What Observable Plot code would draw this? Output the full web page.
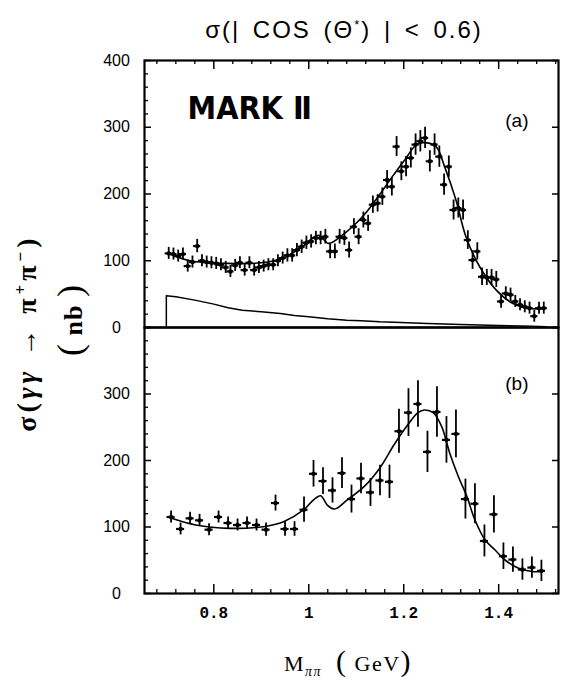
<!DOCTYPE html>
<html><head><meta charset="utf-8">
<script src="https://cdn.jsdelivr.net/npm/d3@7"></script>
<script src="https://cdn.jsdelivr.net/npm/@observablehq/plot@0.6"></script>
<style>
body{margin:0;background:#fff;}
#wrap{position:relative;width:565px;height:684px;overflow:hidden;font-family:"Liberation Sans",Arial,sans-serif;color:#000;}
.abs{position:absolute;white-space:nowrap;}
svg{overflow:visible;}
</style></head><body><div id="wrap"></div>
<script>
// ---------- panel (a): 0.01 GeV bins ----------
const massA = [0.705,0.715,0.725,0.735,0.745,0.755,0.765,0.775,0.785,0.795,
  0.805,0.815,0.825,0.835,0.845,0.855,0.865,0.875,0.885,0.895,
  0.905,0.915,0.925,0.935,0.945,0.955,0.965,0.975,0.985,0.995,
  1.005,1.015,1.025,1.035,1.045,1.055,1.065,1.075,1.085,1.095,
  1.105,1.115,1.125,1.135,1.145,1.155,1.165,1.175,1.185,1.195,
  1.205,1.215,1.225,1.235,1.245,1.255,1.265,1.275,1.285,1.295,
  1.305,1.315,1.325,1.335,1.345,1.355,1.365,1.375,1.385,1.395,
  1.405,1.415,1.425,1.435,1.445,1.455,1.465,1.475,1.485,1.495];
const xsecA = [111,110,107,110,92,98,122,100,98,97,
  96,94,90,84,93,97,86,97,86,90,
  92,94,94,100,104,108,108,116,121,127,
  129,134,134,136,114,114,136,134,116,151,
  136,161,156,184,186,196,221,211,271,234,
  241,254,274,279,284,249,274,256,214,241,
  176,179,176,131,101,114,76,75,75,72,
  39,51,49,39,34,31,29,17,29,29];
const errA = [9,9,9,9,9,9,10,9,9,9,
  9,9,9,9,9,9,9,9,9,9,
  9,9,9,9,9,10,10,10,10,10,
  10,10,10,11,11,11,11,11,12,12,
  12,12,12,13,13,13,14,14,15,14,
  15,15,16,16,16,16,16,16,16,16,
  15,15,15,14,14,13,13,12,12,12,
  10,10,10,9,9,9,9,9,9,9];
const fitAx = [0.705,0.75,0.83,0.90,0.943,0.986,1.02,1.042,1.07,1.113,1.141,1.176,1.204,1.225,1.24,1.268,1.286,1.31,1.331,1.36,1.395,1.43,1.466,1.494];
const fitAy = [111,100,96,97,103,121,138,126,138,166,191,226,253,273,277,271,241,191,136,91,56,36,28.5,28];
const bgX = [0.70,0.70,0.72,0.76,0.80,0.83,0.86,0.90,0.94,0.97,1.00,1.04,1.08,1.11,1.15,1.18,1.25,1.32,1.40,1.47,1.50,1.50];
const bgY = [0,47.5,46,41,35,29.5,26,23.5,21,18,16,13,11,10,8.5,8,6,4.5,3,2,1,0];

// ---------- panel (b): 0.02 GeV bins ----------
const massB = [0.71,0.73,0.75,0.77,0.79,0.81,0.83,0.85,0.87,0.89,
  0.91,0.93,0.95,0.97,0.99,1.01,1.03,1.05,1.07,1.09,
  1.11,1.13,1.15,1.17,1.19,1.21,1.23,1.25,1.27,1.29,
  1.31,1.33,1.35,1.37,1.39,1.41,1.43,1.45,1.47,1.49];
const xsecB = [115,97,113,110,96,115,106,103,106,103,
  96,136,97,97,126,180,169,155,181,142,
  173,152,170,168,244,272,285,213,273,231,
  240,142,135,79,119,56,51,36,39,34];
const errB = [9,9,9,9,9,9,9,9,9,9,
  10,12,11,11,19,20,20,19,23,21,
  23,21,23,25,33,36,35,31,38,35,
  36,30,30,24,28,20,19,16,16,16];
const fitBx = [0.711,0.762,0.833,0.904,0.947,0.989,1.010,1.025,1.039,1.054,1.081,1.117,1.149,1.180,1.209,1.230,1.244,1.262,1.280,1.297,1.315,1.333,1.350,1.372,1.393,1.414,1.442,1.471,1.489];
const fitBy = [113,103,98,100.5,108,125.6,140.7,147,133,127,140.7,161,188,224,254,272,276,272,251,211,176,146,110.5,80,65,50,38,33,33];

// ---------- ticks & labels ----------
const yTickLabelsA = [0,100,200,300,400];
const yTickLabelsB = [0,100,200,300];
const yMajor = [0,100,200,300,400];
const yMinor = [20,40,60,80,120,140,160,180,220,240,260,280,320,340,360,380];
const xMajor = [0.8,1,1.2,1.4];
const xMinor = [0.68,0.72,0.76,0.84,0.88,0.92,0.96,1.04,1.08,1.12,1.16,1.24,1.28,1.32,1.36,1.44,1.48,1.52];
const xTickLabels = [0.8,1,1.2,1.4];
const panelLabels = ["(a)","(b)"];

const W = 565, ML = 144, MR = 7, FW = W - ML - MR;
const xDomain = [0.654, 1.526], yDomain = [0, 400];

function panel({mass, xsec, err, half, fitX, fitY, label, labelDy, yLabels, mt, mb, ph, top, bottom, extra}) {
  const pts = mass.map((m, i) => ({m, s: xsec[i], e: err[i]}));
  const fit = fitX.map((x, i) => ({x, y: fitY[i]}));
  const marks = [
    Plot.frame({stroke: "#000", strokeWidth: 2.2}),
    Plot.axisY(yLabels, {tickSize: 0, tickPadding: 28, textAnchor: "middle", fontSize: 16, label: null}),
    Plot.tickY(yMinor, {y: d => d, insetRight: FW - 4, strokeWidth: 1.3}),
    Plot.tickY(yMajor, {y: d => d, insetRight: FW - 7, strokeWidth: 1.5}),
    Plot.tickY(yMajor, {y: d => d, insetLeft: FW - 6, strokeWidth: 1.5}),
    ...extra,
    Plot.line(fit, {x: "x", y: "y", curve: "catmull-rom", strokeWidth: 1.6, stroke: "#000"}),
    Plot.ruleX(pts, {x: "m", y1: d => d.s - d.e, y2: d => d.s + d.e, strokeWidth: 1.8, stroke: "#000"}),
    Plot.ruleY(pts, {y: "s", x1: d => d.m - half, x2: d => d.m + half, strokeWidth: 2.2, stroke: "#000"}),
    Plot.dot(pts, {x: "m", y: "s", r: 2.2, fill: "#000", stroke: null}),
    Plot.text([label], {frameAnchor: "top-right", dx: -30, dy: labelDy, textAnchor: "end", lineAnchor: "middle", fontSize: 19})
  ];
  if (top) {
    marks.push(Plot.tickX(xMinor, {x: d => d, insetBottom: ph - 4, strokeWidth: 1.3}));
    marks.push(Plot.tickX(xMajor, {x: d => d, insetBottom: ph - 9, strokeWidth: 1.5}));
  }
  if (bottom) {
    marks.push(Plot.tickX(xMinor, {x: d => d, insetTop: ph - 4, strokeWidth: 1.3}));
    marks.push(Plot.tickX(xMajor, {x: d => d, insetTop: ph - 9, strokeWidth: 1.5}));
    marks.push(Plot.axisX(xTickLabels, {tickSize: 0, tickPadding: 13, tickFormat: d => String(d), fontSize: 16, fontWeight: "bold", fontFamily: "Liberation Mono", label: null}));
  }
  return Plot.plot({
    width: W, height: mt + ph + mb,
    marginLeft: ML, marginRight: MR, marginTop: mt, marginBottom: mb,
    x: bottom ? {domain: xDomain} : {domain: xDomain, axis: null},
    y: {domain: yDomain},
    style: {fontFamily: "Liberation Sans, Arial, sans-serif", fontSize: "16px", color: "#000", background: "transparent", overflow: "visible"},
    marks
  });
}

const wrap = document.getElementById("wrap");

const bg = bgX.map((x, i) => ({x, y: bgY[i]}));
const pa = panel({mass: massA, xsec: xsecA, err: errA, half: 0.0075, fitX: fitAx, fitY: fitAy,
  label: panelLabels[0], labelDy: 60, yLabels: yTickLabelsA, mt: 20, mb: 3, ph: 267, top: true, bottom: false,
  extra: [Plot.line(bg, {x: "x", y: "y", strokeWidth: 1.5, stroke: "#000"}),
          Plot.text(["MARK Ⅱ"], {frameAnchor: "top-left", dx: 43, dy: 48, textAnchor: "start", lineAnchor: "middle",
            fontSize: 32, fontWeight: 900, fontFamily: "DejaVu Sans Condensed, DejaVu Sans", letterSpacing: -1})]});
pa.style.position = "absolute"; pa.style.left = "0px"; pa.style.top = "40px";
wrap.appendChild(pa);

const pb = panel({mass: massB, xsec: xsecB, err: errB, half: 0.0085, fitX: fitBx, fitY: fitBy,
  label: panelLabels[1], labelDy: 56, yLabels: yTickLabelsB, mt: 10, mb: 91, ph: 266, top: false, bottom: true, extra: []});
pb.style.position = "absolute"; pb.style.left = "0px"; pb.style.top = "317px";
wrap.appendChild(pb);

function addDiv(html, css) {
  const d = document.createElement("div");
  d.className = "abs"; d.innerHTML = html; d.style.cssText += css;
  wrap.appendChild(d);
}
addDiv("σ(| COS (Θ<sup style='font-size:13px'>*</sup>) | &lt; 0.6)",
  "left:344px;top:30px;transform:translate(-50%,-50%);font-size:24px;letter-spacing:2px;word-spacing:4px;");
addDiv("σ(<i>γγ</i> → π<sup style='font-size:17px'>+</sup>π<sup style='font-size:17px'>−</sup>)",
  "left:27px;top:333px;transform:translate(-50%,-50%) rotate(-90deg);font-family:'Liberation Serif',serif;font-weight:bold;font-size:28px;letter-spacing:4px;");
addDiv("<span style='font-size:36px;font-weight:normal'>(</span> nb <span style='font-size:36px;font-weight:normal'>)</span>",
  "left:70px;top:320px;transform:translate(-50%,-50%) rotate(-90deg);font-family:'Liberation Serif',serif;font-weight:bold;font-size:26px;letter-spacing:1px;");
addDiv("M<sub style='font-size:14px;font-style:italic'>ππ</sub>&nbsp;&nbsp;<span style='font-size:30px'>(</span> GeV<span style='font-size:30px'>)</span>",
  "left:348px;top:662px;transform:translate(-50%,-50%);font-family:'Liberation Serif',serif;font-size:22px;letter-spacing:1.5px;");
</script></body></html>
